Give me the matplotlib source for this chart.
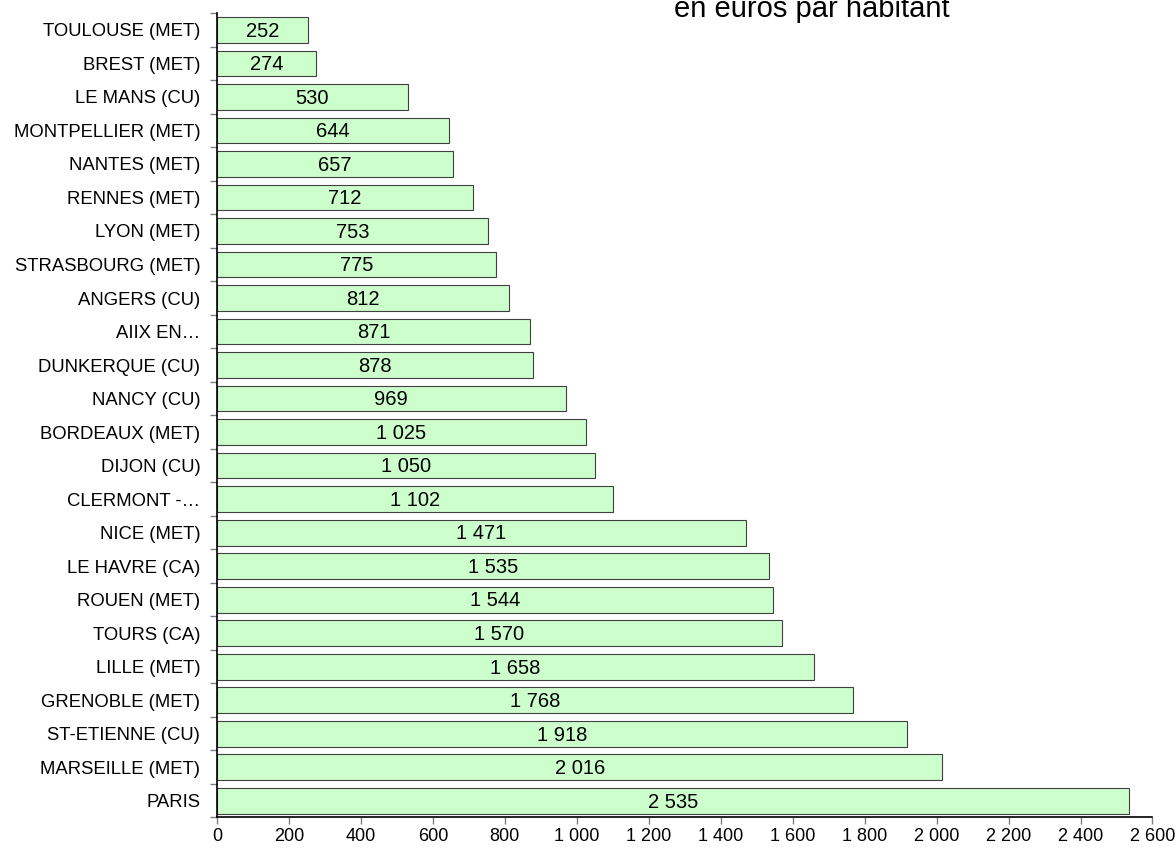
import numpy as np
import matplotlib
matplotlib.use('Agg')
from matplotlib import pyplot as plt

# categories top to bottom, as in the picture
cities = ['TOULOUSE (MET)', 'BREST (MET)', 'LE MANS (CU)', 'MONTPELLIER (MET)',
          'NANTES (MET)', 'RENNES (MET)', 'LYON (MET)', 'STRASBOURG (MET)',
          'ANGERS (CU)', 'AIIX EN…', 'DUNKERQUE (CU)', 'NANCY (CU)',
          'BORDEAUX (MET)', 'DIJON (CU)', 'CLERMONT -…', 'NICE (MET)',
          'LE HAVRE (CA)', 'ROUEN (MET)', 'TOURS (CA)', 'LILLE (MET)',
          'GRENOBLE (MET)', 'ST-ETIENNE (CU)', 'MARSEILLE (MET)', 'PARIS']
values = [252, 274, 530, 644, 657, 712, 753, 775, 812, 871, 878, 969,
          1025, 1050, 1102, 1471, 1535, 1544, 1570, 1658, 1768, 1918, 2016, 2535]
xticks = list(range(0, 2601, 200))

plt.rcParams['font.family'] = ['Liberation Sans', 'DejaVu Sans']

def fmt(v):
    return '{:,}'.format(v).replace(',', ' ')

fig = plt.figure(figsize=(11.76, 8.48), dpi=100)
ax = fig.add_axes([0.1845, 0.036, 0.7955, 0.9485])

y = np.arange(len(cities))
ax.barh(y, values, height=0.77, color='#ccffcc', edgecolor='#404040', linewidth=0.8)
for yi, v in zip(y, values):
    ax.text(v / 2, yi + 0.04, fmt(v), ha='center', va='center', fontsize=14.5)

ax.set_ylim(len(cities) - 0.5, -0.5)
ax.set_xlim(0, 2600)

# labels on minor ticks, tick marks on category borders
ax.set_yticks(np.arange(len(cities) + 1) - 0.5)
ax.set_yticklabels([])
ax.set_yticks(y, minor=True)
ax.set_yticklabels(cities, minor=True, fontsize=13.3)
ax.tick_params(axis='y', which='minor', length=0, pad=12)
ax.tick_params(axis='y', which='major', length=5, width=1, color='#808080')

ax.set_xticks(xticks)
ax.set_xticklabels([fmt(t) for t in xticks], fontsize=13)
ax.tick_params(axis='x', length=5, width=1, color='#808080', pad=2.5)

ax.spines['top'].set_visible(False)
ax.spines['right'].set_visible(False)
ax.spines['left'].set_linewidth(1.2)
ax.spines['bottom'].set_linewidth(1.2)

fig.text(0.573, 0.98, 'en euros par habitant', fontsize=21, ha='left', va='baseline')

fig.savefig('out.png', dpi=100)
